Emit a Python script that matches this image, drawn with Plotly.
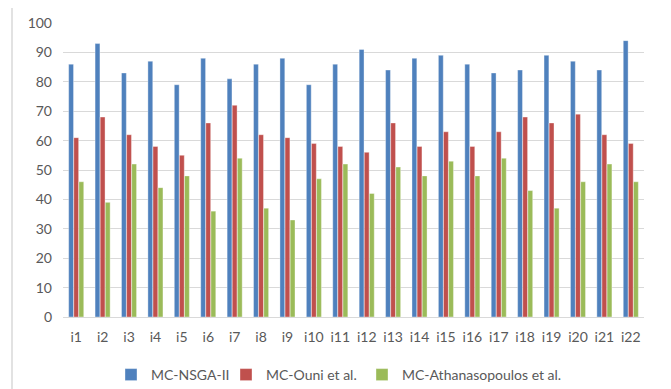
import plotly.graph_objects as go

categories = [f"i{i}" for i in range(1, 23)]
nsga = [86, 93, 83, 87, 79, 88, 81, 86, 88, 79, 86, 91, 84, 88, 89, 86, 83, 84, 89, 87, 84, 94]
ouni = [61, 68, 62, 58, 55, 66, 72, 62, 61, 59, 58, 56, 66, 58, 63, 58, 63, 68, 66, 69, 62, 59]
athan = [46, 39, 52, 44, 48, 36, 54, 37, 33, 47, 52, 42, 51, 48, 53, 48, 54, 43, 37, 46, 52, 46]
y_ticks = list(range(0, 101, 10))

series = [
    ("MC-NSGA-II", nsga, "#4F81BD"),
    ("MC-Ouni et al.", ouni, "#C0504D"),
    ("MC-Athanasopoulos et al.", athan, "#9BBB59"),
]
legend_ids = ["legend", "legend2", "legend3"]

fig = go.Figure()
for (name, vals, col), lg in zip(series, legend_ids):
    fig.add_trace(go.Bar(x=categories, y=vals, name=name, marker_color=col, legend=lg,
                         marker_line=dict(color="rgba(255,255,255,0.6)", width=0.6)))

# page has an 8px body offset; compensate
OFF = 8
W, H = 671 - OFF, 389 - OFF
L, T = 63 - OFF, 23 - OFF
pw, ph = 581, 294
R, B = W - L - pw, H - T - ph

def px_x(x):
    return (x - OFF - L) / pw

def px_y(y):
    return (T + ph - (y - OFF)) / ph

text_starts = [137, 252, 388]
legends = {}
for lg, ts in zip(legend_ids, text_starts):
    legends[lg] = dict(orientation="h", x=px_x(ts - 26), xanchor="left",
                       y=px_y(375), yanchor="middle", bgcolor="rgba(0,0,0,0)",
                       font=dict(size=14, color="#595959"))

fig.update_layout(
    width=W, height=H,
    margin=dict(l=L, r=R, t=T, b=B, autoexpand=False),
    paper_bgcolor="white", plot_bgcolor="white",
    barmode="group", bargap=0.42, bargroupgap=0.05,
    font=dict(family="Lato, Open Sans, sans-serif", color="#595959", size=14),
    showlegend=True,
    xaxis=dict(showgrid=False, showline=True, linecolor="#D9D9D9", linewidth=1,
               ticks="", tickfont=dict(size=14), ticklabelstandoff=7),
    yaxis=dict(range=[0, 100], tickvals=y_ticks, showgrid=True, gridcolor="#D9D9D9",
               gridwidth=1, zeroline=False, showline=False, ticks="",
               tickfont=dict(size=14), ticklabelstandoff=10),
    shapes=[dict(type="rect", xref="paper", yref="paper",
                 x0=px_x(12), x1=px_x(667),
                 y0=px_y(400), y1=px_y(3),
                 line=dict(color="#D9D9D9", width=1.5), fillcolor="rgba(0,0,0,0)",
                 layer="below")],
    **legends,
)

fig.write_html("out.html")
